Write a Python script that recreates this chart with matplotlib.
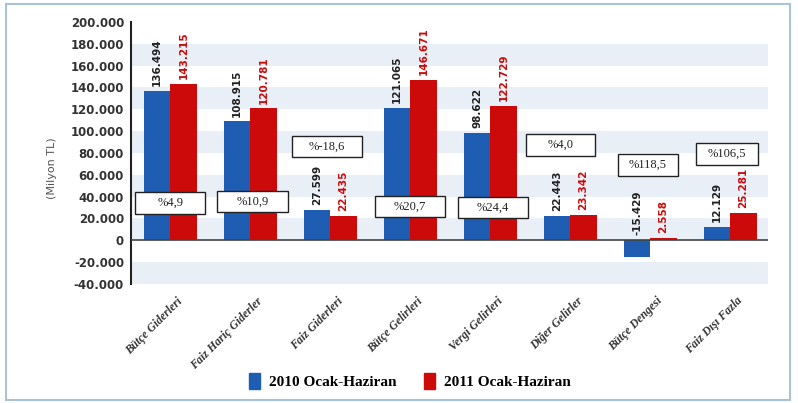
import matplotlib
matplotlib.use('Agg')
import matplotlib.pyplot as plt
from matplotlib.patches import Rectangle, Patch
import numpy as np

# data (Milyon TL)
categories = ['Bütçe Giderleri', 'Faiz Hariç Giderler', 'Faiz Giderleri', 'Bütçe Gelirleri',
              'Vergi Gelirleri', 'Diğer Gelirler', 'Bütçe Dengesi', 'Faiz Dışı Fazla']
values_2010 = [136494, 108915, 27599, 121065, 98622, 22443, -15429, 12129]
values_2011 = [143215, 120781, 22435, 146671, 122729, 23342, 2558, 25281]
change_labels = ['%4,9', '%10,9', '%-18,6', '%20,7', '%24,4', '%4,0', '%118,5', '%106,5']
series_names = ['2010 Ocak-Haziran', '2011 Ocak-Haziran']

# where the change boxes sit (layout only)
box_y = [34000, 35500, 86000, 31000, 30000, 87500, 69000, 79000]
box_dx = [0.0, 0.03, -0.04, 0.0, 0.03, -0.12, -0.03, -0.04]
box_w = [0.87, 0.88, 0.87, 0.88, 0.87, 0.86, 0.76, 0.78]

blue = '#1f5db3'
red = '#cc0a0a'

fig = plt.figure(figsize=(7.98, 4.03), dpi=100)
ax = fig.add_axes([131/798, 1 - 284/403, (768 - 131)/798, (284 - 22)/403])

# frame round the whole picture
fig.patches.append(Rectangle((6/798, 3/403), 784/798, 396/403, transform=fig.transFigure,
                             fill=False, edgecolor='#a9c3d6', lw=1.5))

# light bands
for lo in range(-40000, 200000, 40000):
    ax.axhspan(lo, lo + 20000, color='#e9eff6', zorder=0, lw=0)

x = np.arange(len(categories))
w = 0.33
ax.bar(x - w/2, values_2010, w, color=blue, zorder=2)
ax.bar(x + w/2, values_2011, w, color=red, zorder=2)
ax.axhline(0, color='#444444', lw=1.2, zorder=3)

def fmt(v):
    return f'{v:,}'.replace(',', '.')

for i in range(len(categories)):
    ax.text(x[i] - w/2, max(values_2010[i], 0) + 4500, fmt(values_2010[i]), rotation=90,
            ha='center', va='bottom', fontsize=7.5, fontweight='bold', color='#222222', zorder=4)
    ax.text(x[i] + w/2, max(values_2011[i], 0) + 4500, fmt(values_2011[i]), rotation=90,
            ha='center', va='bottom', fontsize=7.5, fontweight='bold', color=red, zorder=4)
    cx = x[i] + box_dx[i]
    ax.add_patch(Rectangle((cx - box_w[i]/2, box_y[i] - 10000), box_w[i], 20000,
                           facecolor='white', edgecolor='#222222', lw=1.0, zorder=5))
    ax.text(cx, box_y[i], change_labels[i], ha='center', va='center', fontsize=9,
            family='Liberation Serif', color='#222222', zorder=6)

ax.set_xlim(-0.49, 7.47)
ax.set_ylim(-40000, 200000)
ax.set_yticks(range(-40000, 200001, 20000))
ax.set_yticklabels([fmt(t) for t in range(-40000, 200001, 20000)], fontsize=8.5,
                   fontweight='bold', color='#333333')
ax.set_xticks(x + 0.08)
ax.set_xticklabels(categories, rotation=45, ha='right', rotation_mode='anchor',
                   fontsize=8.5, fontstyle='italic', fontweight='bold',
                   family='Liberation Serif', color='#333333')
ax.tick_params(axis='both', length=0, pad=5)
ax.tick_params(axis='x', pad=8)
for s in ['top', 'right', 'bottom']:
    ax.spines[s].set_visible(False)
ax.spines['left'].set_color('#222222')
ax.spines['left'].set_linewidth(1.5)

fig.text(52/798, 1 - 168/403, '(Milyon TL)', rotation=90, ha='center', va='center',
         fontsize=8, color='#555555')

handles = [Patch(color=blue), Patch(color=red)]
fig.legend(handles, series_names, loc='center', bbox_to_anchor=(410/798, 1 - 381/403),
           ncol=2, frameon=False, handlelength=0.7, handleheight=1.2, handletextpad=0.6,
           columnspacing=1.8, prop={'family': 'Liberation Serif', 'weight': 'bold', 'size': 11})

fig.savefig('out.png', dpi=100)
